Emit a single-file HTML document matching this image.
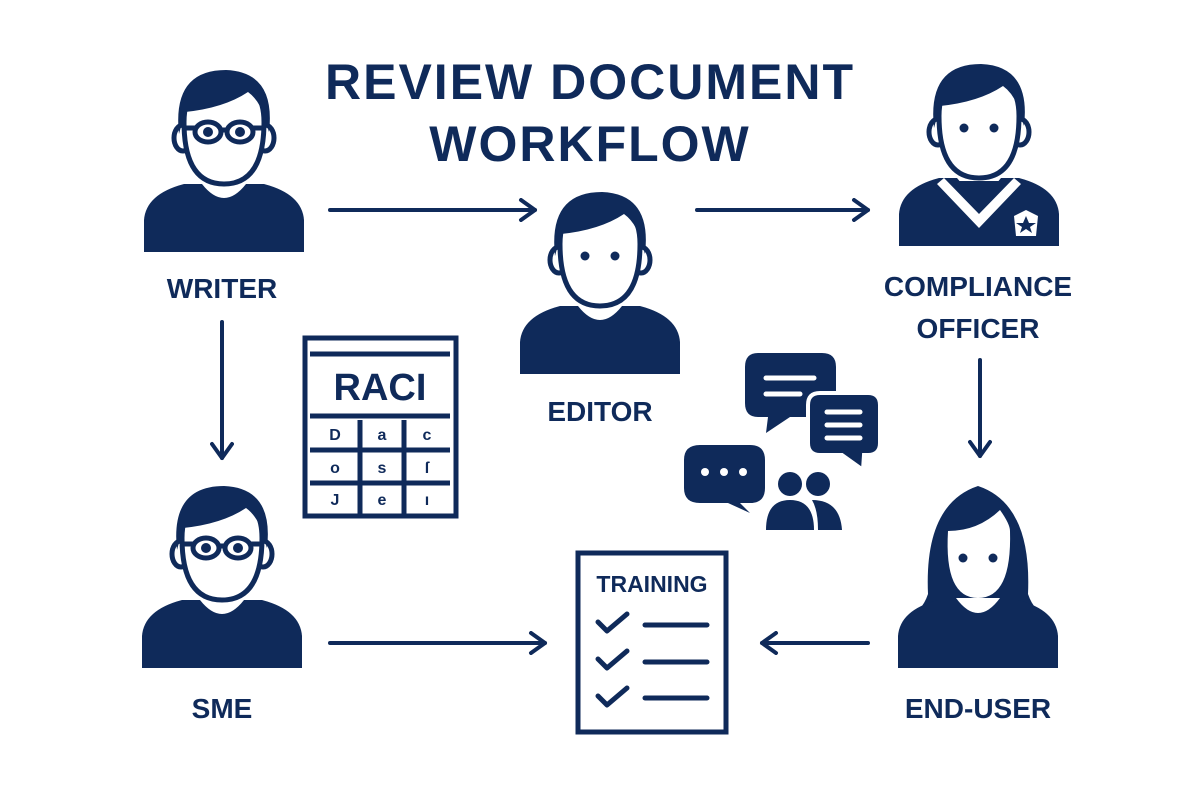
<!DOCTYPE html>
<html><head><meta charset="utf-8"><style>
html,body{margin:0;padding:0;background:#fff;width:1200px;height:800px;overflow:hidden}
svg{display:block}
text{font-family:"Liberation Sans",sans-serif;font-weight:bold;fill:#0f2a5a}
</style></head><body>
<svg width="1200" height="800" viewBox="0 0 1200 800" xmlns="http://www.w3.org/2000/svg">
<defs>
<g id="body">
  <path d="M-80 180 V148 Q-78 122 -40 112 L40 112 Q78 122 80 148 V180 Z" fill="#0f2a5a"/>
  <path d="M-22 112 Q0 140 22 112 Z" fill="#fff"/>
  <ellipse cx="-41" cy="66" rx="9" ry="13" fill="#fff" stroke="#0f2a5a" stroke-width="5"/>
  <ellipse cx="41" cy="66" rx="9" ry="13" fill="#fff" stroke="#0f2a5a" stroke-width="5"/>
  <path d="M-40 50 Q-40 112 0 112 Q40 112 40 50 Q40 8 0 8 Q-40 8 -40 50 Z" fill="#fff" stroke="#0f2a5a" stroke-width="5"/>
</g>
<g id="hair">
  <path d="M-45 62 Q-52 -2 2 -2 Q52 0 45 60 L40 44 Q35 28 24 20 Q0 36 -39 40 Z" fill="#0f2a5a"/>
</g>
<g id="eyes"><circle cx="-15" cy="62" r="4.5" fill="#0f2a5a"/><circle cx="15" cy="62" r="4.5" fill="#0f2a5a"/></g>
<g id="glasses" fill="none" stroke="#0f2a5a" stroke-width="5">
  <ellipse cx="-16" cy="60" rx="13" ry="10"/><ellipse cx="16" cy="60" rx="13" ry="10"/>
  <path d="M-3 58 H3 M-29 56 H-38 M29 56 H38"/>
  <circle cx="-16" cy="60" r="2.5" fill="#0f2a5a"/><circle cx="16" cy="60" r="2.5" fill="#0f2a5a"/>
</g>
<marker id="ah" viewBox="0 0 24 24" refX="20" refY="12" markerWidth="24" markerHeight="24" markerUnits="userSpaceOnUse" orient="auto">
  <path d="M6 2 L20 12 L6 22" fill="none" stroke="#0f2a5a" stroke-width="4" stroke-linecap="round" stroke-linejoin="round"/>
</marker>
</defs>

<text x="590" y="99" font-size="50" text-anchor="middle" letter-spacing="2">REVIEW DOCUMENT</text>
<text x="590" y="161" font-size="50" text-anchor="middle" letter-spacing="2">WORKFLOW</text>

<!-- Writer -->
<g transform="translate(224,72)"><use href="#body"/><use href="#hair"/><use href="#glasses"/></g>
<text x="222" y="298" font-size="28" text-anchor="middle">WRITER</text>

<!-- Editor -->
<g transform="translate(600,194)"><use href="#body"/><use href="#hair"/><use href="#eyes"/></g>
<text x="600" y="421" font-size="28" text-anchor="middle">EDITOR</text>

<!-- Compliance -->
<g transform="translate(979,66)"><use href="#body"/><use href="#hair"/><use href="#eyes"/>
  <path d="M-35 112 L0 148 L35 112 L42 118 L0 162 L-42 118 Z" fill="#fff"/>
  <path d="M-28 115 L0 145 L28 115" fill="#0f2a5a"/>
  <path d="M35 150 L47 144 L59 150 L57 170 L37 170 Z" fill="#fff"/>
  <path d="M47 150 L50 157 L57 157 L51 161 L53 167 L47 163 L41 167 L43 161 L37 157 L44 157 Z" fill="#0f2a5a"/>
</g>
<text x="978" y="296" font-size="28" text-anchor="middle">COMPLIANCE</text>
<text x="978" y="338" font-size="28" text-anchor="middle">OFFICER</text>

<!-- SME -->
<g transform="translate(222,488)"><use href="#body"/><use href="#hair"/><use href="#glasses"/></g>
<text x="222" y="718" font-size="28" text-anchor="middle">SME</text>

<!-- End-user -->
<g transform="translate(978,486)">
  <path d="M-50 108 Q-54 18 0 0 Q54 18 50 108 Q56 126 72 132 L-72 132 Q-56 126 -50 108 Z" fill="#0f2a5a"/>
  <path d="M-80 182 V150 Q-78 124 -40 114 L40 114 Q78 124 80 150 V182 Z" fill="#0f2a5a"/>
  <path d="M-22 112 Q0 142 22 112 Z" fill="#fff"/>
  <path d="M-30 45 Q-34 112 0 112 Q34 112 32 45 Q32 38 22 24 Q0 45 -30 45 Z" fill="#fff"/>
  <use href="#eyes" transform="translate(0,10)"/>
</g>
<text x="978" y="718" font-size="28" text-anchor="middle">END-USER</text>

<!-- Arrows -->
<g stroke="#0f2a5a" stroke-width="4" stroke-linecap="round" fill="none">
  <line x1="330" y1="210" x2="535" y2="210" marker-end="url(#ah)"/>
  <line x1="697" y1="210" x2="868" y2="210" marker-end="url(#ah)"/>
  <line x1="222" y1="322" x2="222" y2="458" marker-end="url(#ah)"/>
  <line x1="980" y1="360" x2="980" y2="456" marker-end="url(#ah)"/>
  <line x1="330" y1="643" x2="545" y2="643" marker-end="url(#ah)"/>
  <line x1="868" y1="643" x2="762" y2="643" marker-end="url(#ah)"/>
</g>

<!-- RACI -->
<g stroke="#0f2a5a" fill="none">
  <rect x="305" y="338" width="151" height="178" stroke-width="5"/>
  <line x1="310" y1="354" x2="450" y2="354" stroke-width="5"/>
  <line x1="310" y1="416" x2="450" y2="416" stroke-width="5"/>
  <line x1="310" y1="450" x2="450" y2="450" stroke-width="5"/>
  <line x1="310" y1="483" x2="450" y2="483" stroke-width="5"/>
  <line x1="360" y1="420" x2="360" y2="514" stroke-width="5"/>
  <line x1="404" y1="420" x2="404" y2="514" stroke-width="5"/>
</g>
<text x="380" y="400" font-size="38" text-anchor="middle">RACI</text>
<g font-size="16" text-anchor="middle">
<text x="335" y="440">D</text><text x="382" y="440">a</text><text x="427" y="440">c</text>
<text x="335" y="473">o</text><text x="382" y="473">s</text><text x="427" y="473">ſ</text>
<text x="335" y="505">J</text><text x="382" y="505">e</text><text x="427" y="505">ı</text>
</g>

<!-- Training -->
<rect x="578" y="553" width="148" height="179" fill="none" stroke="#0f2a5a" stroke-width="5"/>
<text x="652" y="592" font-size="23" text-anchor="middle">TRAINING</text>
<g stroke="#0f2a5a" stroke-width="5" fill="none" stroke-linecap="round" stroke-linejoin="round">
  <path d="M598 622 L607 631 L627 614"/><path d="M598 659 L607 668 L627 651"/><path d="M598 696 L607 705 L627 688"/>
  <line x1="645" y1="625" x2="707" y2="625"/><line x1="645" y1="662" x2="707" y2="662"/><line x1="645" y1="698" x2="707" y2="698"/>
</g>

<!-- Chat icons -->
<g fill="#0f2a5a">
  <path d="M758 353 H822 Q836 353 836 367 V403 Q836 417 822 417 H790 L766 433 L768 417 H758 Q745 417 745 403 V367 Q745 353 758 353 Z"/>
  <path d="M820 393 H868 Q880 393 880 405 V443 Q880 455 868 455 H864 L863 470 L842 455 H820 Q808 455 808 443 V405 Q808 393 820 393 Z" stroke="#fff" stroke-width="4"/>
  <path d="M700 445 H750 Q765 445 765 460 V488 Q765 503 750 503 H740 L750 513 L728 503 H700 Q684 503 684 488 V460 Q684 445 700 445 Z"/>
  <circle cx="790" cy="484" r="12"/><circle cx="818" cy="484" r="12"/>
  <path d="M766 530 Q766 500 790 500 Q814 500 814 530 Z"/>
  <path d="M812 500 Q840 500 842 530 H818 Q818 510 812 500 Z"/>
</g>
<g stroke="#fff" stroke-width="5" stroke-linecap="round">
  <line x1="766" y1="378" x2="814" y2="378"/><line x1="766" y1="394" x2="800" y2="394"/>
  <line x1="827" y1="412" x2="860" y2="412"/><line x1="827" y1="425" x2="860" y2="425"/><line x1="827" y1="438" x2="860" y2="438"/>
</g>
<g fill="#fff"><circle cx="705" cy="472" r="4"/><circle cx="724" cy="472" r="4"/><circle cx="743" cy="472" r="4"/></g>
</svg>
</body></html>
